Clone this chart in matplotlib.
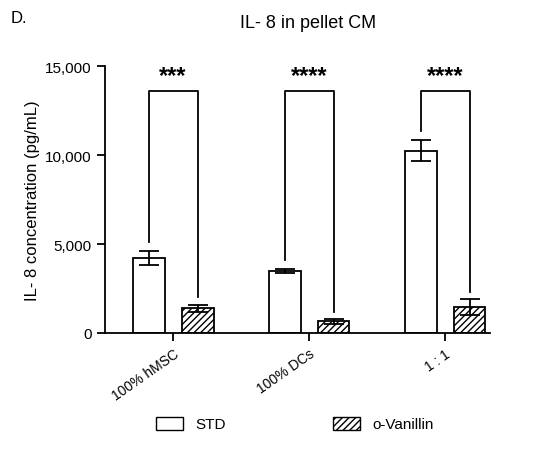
import matplotlib
matplotlib.use("Agg")
import matplotlib.pyplot as plt
import numpy as np
from matplotlib.patches import Patch

plt.rcParams['font.family'] = ['Liberation Sans', 'DejaVu Sans']
categories = ["100% hMSC", "100% DCs", "1 : 1"]
std_vals = [4200, 3500, 10250]
std_err = [400, 120, 600]
van_vals = [1400, 650, 1450]
van_err = [200, 150, 450]
stars = ["***", "****", "****"]

fig = plt.figure(figsize=(5.36, 4.6), dpi=100)
ax = fig.add_axes([0.196, 0.274, 0.718, 0.58])
x = np.arange(len(categories))
w = 0.235; off = 0.18
ax.bar(x - off, std_vals, w, color='white', edgecolor='black', lw=1.3)
ax.errorbar(x - off, std_vals, yerr=std_err, fmt='none', ecolor='black', capsize=7, lw=1.3, capthick=1.3)
ax.bar(x + off, van_vals, w, color='white', edgecolor='black', hatch='/////', lw=1.3)
ax.errorbar(x + off, van_vals, yerr=van_err, fmt='none', ecolor='black', capsize=7, lw=1.3, capthick=1.3)
for i in range(3):
    top = 13600
    l = std_vals[i] + std_err[i] + 500
    r = van_vals[i] + van_err[i] + 400
    ax.plot([x[i]-off, x[i]-off, x[i]+off, x[i]+off], [l, top, top, r], color='black', lw=1.3)
    ax.text(x[i], top + 200, stars[i], ha='center', va='bottom', fontsize=17, fontweight='bold')
ax.set_ylim(0, 15000)
ax.set_xlim(-0.5, 2.33)
ax.set_yticks([0, 5000, 10000, 15000])
ax.set_yticklabels(["0", "5,000", "10,000", "15,000"], fontsize=11)
ax.set_xticks(x)
ax.set_xticklabels(categories, rotation=35, ha='right', rotation_mode='anchor', fontsize=10)
ax.tick_params(width=1.3, length=6)
ax.spines['top'].set_visible(False); ax.spines['right'].set_visible(False)
for s in ['left', 'bottom']: ax.spines[s].set_linewidth(1.3)
ax.set_ylabel("IL- 8 concentration (pg/mL)", fontsize=12)
fig.text(0.575, 0.95, "IL- 8 in pellet CM", fontsize=13, ha='center', va='center')
fig.text(0.02, 0.95, "D.", fontsize=12)
handles = [Patch(facecolor='white', edgecolor='black', label='STD'),
           Patch(facecolor='white', edgecolor='black', hatch='/////', label='o-Vanillin')]
fig.legend(handles=handles, loc='lower center', bbox_to_anchor=(0.55, 0.03), ncol=2, frameon=False,
           fontsize=11, columnspacing=7, handlelength=1.8, handleheight=0.9)
fig.savefig("out.png", dpi=100)
